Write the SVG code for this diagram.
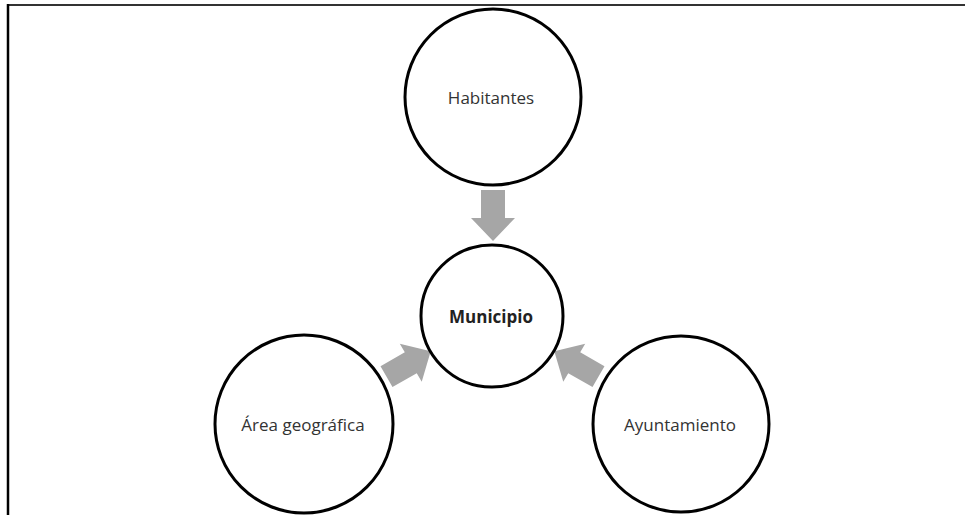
<svg xmlns="http://www.w3.org/2000/svg" width="965" height="515" viewBox="0 0 965 515">
<defs>
<style>
.node{fill:#ffffff;stroke:#000000;stroke-width:3}
.lbl{font-family:"Open Sans","Liberation Sans",sans-serif;font-size:17px;fill:#333333;text-anchor:middle}
.bold{font-weight:bold;font-size:17px;fill:#222222}
.arr{fill:#a6a6a6}
</style>
<polygon id="arrowShape" points="0,-12 28,-12 28,-22 51,0 28,22 28,12 0,12"/>
</defs>
<rect x="0" y="0" width="965" height="515" fill="#ffffff"/>
<g id="frame">
<line x1="7" y1="5" x2="965" y2="5" stroke="#333333" stroke-width="2"/>
<line x1="8" y1="4" x2="8" y2="515" stroke="#000000" stroke-width="2.5"/>
</g>
<g id="connectors">
<use href="#arrowShape" class="arr" transform="translate(493,190) rotate(90)"/>
<use href="#arrowShape" class="arr" transform="translate(386.5,376.7) rotate(-29.9)"/>
<use href="#arrowShape" class="arr" transform="translate(598.5,376.7) rotate(-150.1)"/>
</g>
<g id="habitantes">
<circle class="node" cx="493" cy="97" r="88"/>
<text class="lbl" x="491" y="104">Habitantes</text>
</g>
<g id="municipio">
<circle class="node" cx="492" cy="316" r="71"/>
<text class="lbl bold" x="491" y="323">Municipio</text>
</g>
<g id="area">
<circle class="node" cx="304" cy="424" r="89"/>
<text class="lbl" x="303" y="431">Área geográfica</text>
</g>
<g id="ayuntamiento">
<circle class="node" cx="681" cy="424" r="88"/>
<text class="lbl" x="680" y="431">Ayuntamiento</text>
</g>
</svg>
